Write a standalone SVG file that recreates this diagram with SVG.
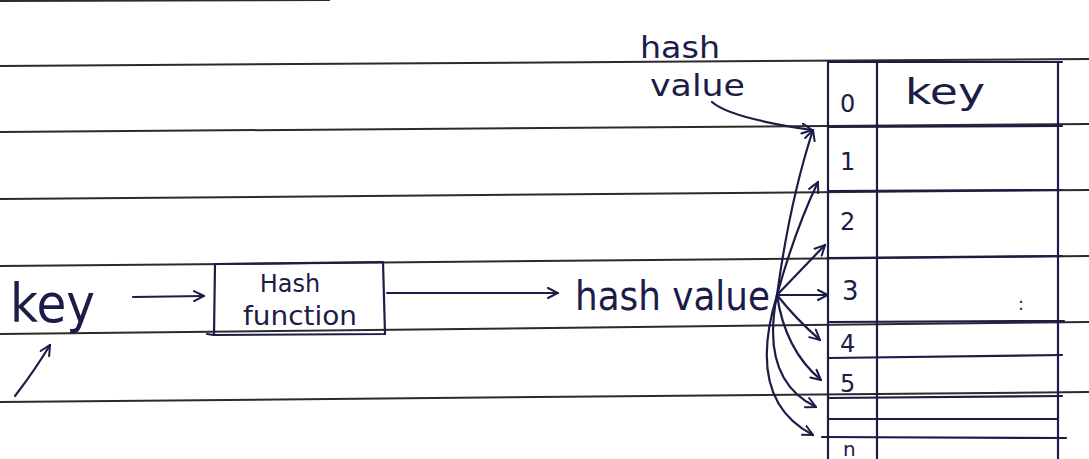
<svg xmlns="http://www.w3.org/2000/svg" width="1089" height="459" viewBox="0 0 1089 459">
<style>
.rule{stroke:#2b2b2b;stroke-width:2;fill:none}
.ink{stroke:#1c1c48;stroke-width:2.2;fill:none;stroke-linecap:round;stroke-linejoin:round}
.t{font-family:"DejaVu Sans","Liberation Sans",sans-serif;fill:#1c1c48;font-weight:normal}
</style>
<defs>
<marker id="ah" viewBox="0 0 12 12" refX="11" refY="6" markerWidth="12" markerHeight="12" markerUnits="userSpaceOnUse" orient="auto">
<path d="M1,1 L11,6 L1,11" fill="none" stroke="#1c1c48" stroke-width="2" stroke-linecap="round"/>
</marker>
</defs>
<rect width="1089" height="459" fill="#ffffff"/>
<g id="paper">
<line class="rule" x1="0" y1="1" x2="330" y2="0"/>
<line class="rule" x1="0" y1="66" x2="1089" y2="59"/>
<line class="rule" x1="0" y1="132" x2="1089" y2="124"/>
<line class="rule" x1="0" y1="199" x2="1089" y2="190"/>
<line class="rule" x1="0" y1="266" x2="1089" y2="256"/>
<line class="rule" x1="0" y1="334" x2="1089" y2="322"/>
<line class="rule" x1="0" y1="402" x2="1089" y2="392"/>
</g>
<g id="key-input">
<text class="t" x="10" y="322" font-size="54" textLength="85" lengthAdjust="spacingAndGlyphs">key</text>
</g>
<g id="hash-function">
<path class="ink" d="M215,264 L383,262 L385,334 L214,335 Z"/>
<path class="ink" d="M207,334 L214,335"/>
<text class="t" x="290" y="292" font-size="24" text-anchor="middle">Hash</text>
<text class="t" x="243" y="325" font-size="26" textLength="114" lengthAdjust="spacingAndGlyphs">function</text>
</g>
<g id="hash-value">
<text class="t" x="575" y="310" font-size="40" textLength="195" lengthAdjust="spacingAndGlyphs">hash value</text>
</g>
<g id="hash-value-label">
<text class="t" x="640" y="58" font-size="30" textLength="80" lengthAdjust="spacingAndGlyphs">hash</text>
<text class="t" x="650" y="96" font-size="30" textLength="95" lengthAdjust="spacingAndGlyphs">value</text>
</g>
<g id="hash-table">
<path class="ink" d="M828,62 L1062,62"/>
<path class="ink" d="M828,62 L828,459"/>
<path class="ink" d="M877,62 L877,459"/>
<path class="ink" d="M1058,62 L1058,459"/>
<path class="ink" d="M828,127 L1062,126"/>
<path class="ink" d="M828,191 L1062,190"/>
<path class="ink" d="M828,258 L1062,256"/>
<path class="ink" d="M828,322 L1064,321"/>
<path class="ink" d="M828,358 L1062,355"/>
<path class="ink" d="M828,398 L1062,396"/>
<path class="ink" d="M828,419 L1058,419"/>
<path class="ink" d="M822,437 L1066,438"/>
<text class="t" x="840" y="112" font-size="24">0</text>
<text class="t" x="840" y="170" font-size="24">1</text>
<text class="t" x="840" y="230" font-size="24">2</text>
<text class="t" x="842" y="300" font-size="26">3</text>
<text class="t" x="840" y="352" font-size="24">4</text>
<text class="t" x="840" y="392" font-size="24">5</text>
<text class="t" x="843" y="456" font-size="20">n</text>
<text class="t" x="905" y="104" font-size="36" textLength="80" lengthAdjust="spacingAndGlyphs">key</text>
<text class="t" x="1018" y="310" font-size="18">:</text>
</g>
<g id="connectors">
<path class="ink" d="M133,297 L204,296" marker-end="url(#ah)"/>
<path class="ink" d="M387,293 L558,293" marker-end="url(#ah)"/>
<path class="ink" d="M15,396 Q35,370 50,345" marker-end="url(#ah)"/>
<path class="ink" d="M712,102 Q730,118 812,130" marker-end="url(#ah)"/>
<path class="ink" d="M777,295 Q790,200 813,130" marker-end="url(#ah)"/>
<path class="ink" d="M777,295 Q795,230 818,182" marker-end="url(#ah)"/>
<path class="ink" d="M777,295 L825,245" marker-end="url(#ah)"/>
<path class="ink" d="M777,295 L828,295" marker-end="url(#ah)"/>
<path class="ink" d="M777,295 Q795,318 820,340" marker-end="url(#ah)"/>
<path class="ink" d="M777,295 Q785,350 821,380" marker-end="url(#ah)"/>
<path class="ink" d="M777,295 Q760,380 816,407" marker-end="url(#ah)"/>
<path class="ink" d="M777,295 Q745,400 813,435" marker-end="url(#ah)"/>
</g>
</svg>
